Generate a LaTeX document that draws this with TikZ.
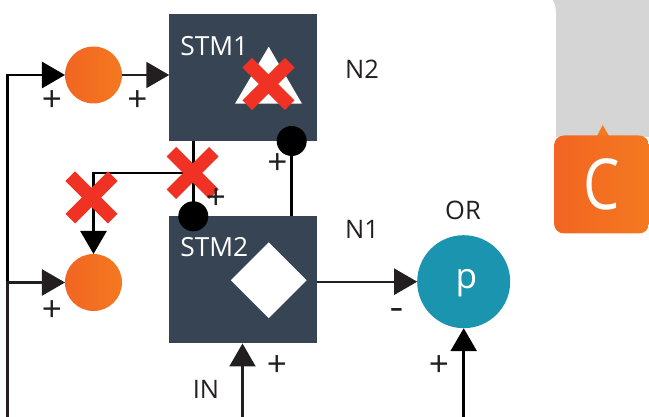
\documentclass[tikz,border=0pt]{standalone}
\usepackage{fontspec}
\setmainfont{Open Sans}
\usepackage{tikz}
\usetikzlibrary{positioning}
\usetikzlibrary{shapes.geometric}
\usetikzlibrary{shapes.misc}
\usetikzlibrary{arrows.meta}
\definecolor{stmblue}{HTML}{364454}
\definecolor{orangeL}{HTML}{F26522}
\definecolor{orangeR}{HTML}{F47920}
\definecolor{tealblue}{HTML}{1A94AF}
\definecolor{crossred}{HTML}{EF3224}
\definecolor{wiregray}{HTML}{231F20}
\definecolor{panelgray}{HTML}{D5D5D5}
\tikzset{
	stmbox/.style={rectangle, fill=stmblue, minimum width=2.95cm, minimum height=2.54cm, inner sep=0, outer sep=0},
	summer/.style={circle, left color=orangeL, middle color=orangeR, right color=orangeR, minimum size=1.14cm, inner sep=0, outer sep=0},
	blob/.style={circle, fill=black, minimum size=0.6cm, inner sep=0, outer sep=0},
	redcross/.style={cross out, draw=crossred, line width=0.27cm, minimum size=0.85cm, inner sep=0, outer sep=0},
	wire/.style={line width=1.3pt, color=wiregray},
	blackwire/.style={line width=1.5pt, color=black},
	tip/.style={-{Triangle[length=0.46cm, width=0.52cm]}},
	signtext/.style={font=\fontsize{20}{20}\selectfont, text=wiregray, inner sep=0},
	labeltext/.style={font=\fontsize{14.5}{14.5}\selectfont, text=wiregray, inner sep=0},
	stmtext/.style={font=\fontsize{15}{15}\selectfont, text=white, inner sep=0, anchor=west}
}
\begin{document}
\begin{tikzpicture}
	\useasboundingbox (0,0) rectangle (12.98,8.34);

	\fill[panelgray] (11.054,8.34) .. controls (11.1,8.28) and (11.12,8.18) .. (11.12,8.06) -- (11.12,5.6) -- (12.98,5.6) -- (12.98,8.34) -- cycle;
	\fill[orangeR] (11.94,5.62) -- (12.054,5.84) -- (12.18,5.62) -- cycle;
	\node[rectangle, rounded corners=0.2cm, left color=orangeL, middle color=orangeR, right color=orangeR, minimum width=1.9cm, minimum height=1.96cm, inner sep=0, text=white, font=\fontsize{40}{40}\selectfont] (C) at (12.03,4.65) {\scalebox{0.82}[1]{C}};

	\coordinate (inA) at (0.15,0);
	\coordinate (inB) at (4.85,0);
	\coordinate (inC) at (9.274,0);
	\coordinate (branch) at (3.866,4.88);
	\coordinate (tapA) at (5.834,5.52);
	\coordinate (tapB) at (3.866,4.014);

	\node[stmbox] (STMA) at (4.86,6.79) {};
	\node[stmbox] (STMB) at (4.86,2.74) {};
	\node[summer] (orA) at (1.87,6.84) {};
	\node[summer] (orB) at (1.87,2.69) {};
	\node[circle, fill=tealblue, minimum size=1.86cm, inner sep=0, outer sep=0] (P) at (9.274,2.706) {};
	\node[text=white, inner sep=0, font=\fontsize{20}{20}\selectfont] (pname) at (9.33,2.67) {p};

	\draw[blackwire] (STMA.south -| tapB) -- (tapB);
	\draw[blackwire, tip] (branch) -| (orB);
	\draw[blackwire] (tapA) -- (STMB.north -| tapA);
	\draw[blackwire, tip] (inA) |- (orA);
	\draw[wire, tip] (inA) |- (orB);
	\draw[wire, tip] (orA) -- (orA -| STMA.west);
	\draw[wire, tip] (STMB.east |- P) -- (P);
	\draw[wire, tip] (inB) -- (inB |- STMB.south);
	\draw[blackwire, tip] (inC) -- (P);

	\node[blob] (dotA) at (tapA) {};
	\node[blob] (dotB) at (tapB) {};

	\fill[white] (5.374,7.406) -- (6.04,6.266) -- (4.7,6.266) -- cycle;
	\node[diamond, fill=white, minimum size=1.52cm, inner sep=0] (gate) at (5.374,2.734) {};

	\node[redcross] (xA) at (5.37,6.66) {};
	\node[redcross] (xB) at (3.854,4.88) {};
	\node[redcross] (xC) at (1.83,4.39) {};

	\node[stmtext] (nameA) at (3.6,7.42) {STM1};
	\node[stmtext] (nameB) at (3.6,3.39) {STM2};
	\node[labeltext] (N2) at (7.24,6.96) {N2};
	\node[labeltext] (N1) at (7.24,3.76) {N1};
	\node[labeltext] (OR) at (9.26,4.13) {OR};
	\node[labeltext] (IN) at (4.12,0.56) {IN};

	\node[signtext] (sA) at (1.04,6.31) {+};
	\node[signtext] (sB) at (2.75,6.31) {+};
	\node[signtext] (sC) at (5.55,5.06) {+};
	\node[signtext] (sD) at (4.32,4.36) {+};
	\node[signtext] (sE) at (1.04,2.12) {+};
	\node[signtext] (sF) at (5.54,1.02) {+};
	\node[signtext] (sG) at (8.78,1.02) {+};
	\node[signtext, font=\fontsize{14}{14}\selectfont\bfseries] (sH) at (7.93,2.08) {--};
\end{tikzpicture}
\end{document}
